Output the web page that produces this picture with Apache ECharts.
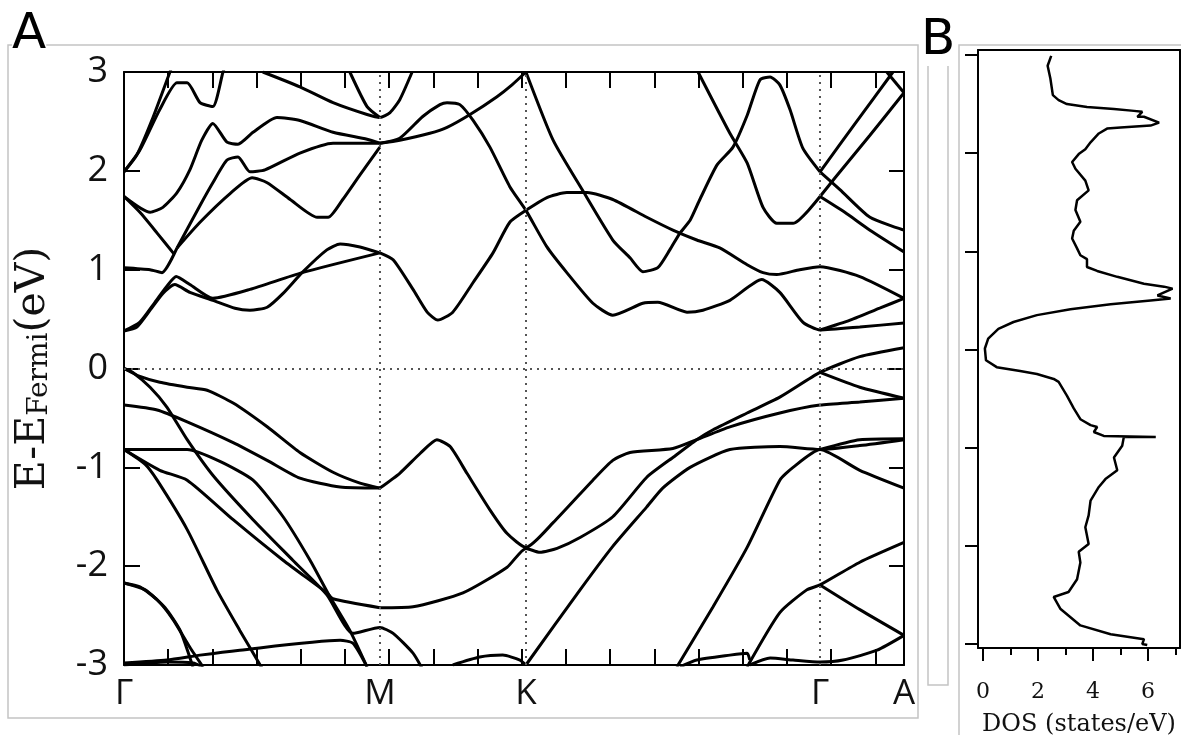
<!DOCTYPE html>
<html><head><meta charset="utf-8">
<script src="https://cdn.jsdelivr.net/npm/echarts@6/dist/echarts.min.js"></script>
<style>html,body{margin:0;padding:0;background:#fff}#c{width:1181px;height:735px}</style>
</head><body><div id="c"></div>
<script>
// ---- axes / labels ----
const kTicks = [1,2,3,4,5,6,7,8,9,10,11,12,13,14,15,16,17];
const symPoints = [0, 5.79, 9.095, 15.75, 17.65];
const symLabels = ['Γ','M','K','Γ','A'];
const eTicks = [-3,-2,-1,0,1,2,3];
const dosMajor = [0,2,4,6];
const dosMinor = [1,3,5,7];

// ---- bands (k, E-EFermi) ----
const c1 = [[0,1.99],[0.29,2.16],[0.63,2.51],[1.04,3.0],[1.08,3.05]];
const c2 = [[0,1.99],[0.36,2.21],[0.81,2.62],[1.2,2.89],[1.43,2.89],[1.72,2.69],[2.01,2.65],[2.24,3.0],[2.28,3.05]];
const c3 = [[0,1.74],[0.59,1.58],[0.88,1.63],[1.2,1.78],[1.49,2.01],[1.76,2.31],[2.01,2.48],[2.33,2.29],[2.58,2.27],[2.92,2.39],[3.46,2.54],[3.98,2.51],[4.73,2.39],[5.5,2.32],[5.79,2.28]];
const c4 = [[0,1.74],[0.36,1.58],[0.75,1.37],[1.13,1.16]];
const c5 = [[0,1.02],[0.59,1.0],[0.86,0.97],[1.2,1.22]];
const c6 = [[1.2,1.22],[1.72,1.65],[2.01,1.88],[2.33,2.11],[2.58,2.14],[2.85,1.99],[3.19,2.01],[3.98,2.18],[4.73,2.28],[5.79,2.28]];
const c7 = [[1.2,1.22],[1.72,1.48],[2.4,1.77],[2.9,1.93],[3.24,1.88],[3.76,1.71],[4.37,1.53],[4.62,1.53],[4.95,1.71],[5.34,1.96],[5.79,2.24]];
const h1 = [[0,0.38],[0.29,0.42],[0.59,0.59],[0.88,0.76],[1.15,0.85],[1.49,0.77],[2.01,0.69],[2.51,0.61],[2.85,0.59],[3.24,0.62],[3.6,0.76],[4.03,0.97],[4.59,1.2],[4.89,1.26],[5.34,1.23],[5.79,1.17]];
const h2 = [[0,0.38],[0.36,0.47],[0.7,0.67],[1.0,0.85],[1.18,0.93],[1.49,0.85],[2.01,0.71],[2.85,0.8],[4.03,0.97],[5.79,1.17]];
const m1 = [[3.14,3.0],[3.98,2.85],[4.73,2.69],[5.5,2.57],[5.79,2.54],[6.02,2.59],[6.24,2.72],[6.52,3.0]];
const m2 = [[5.11,3.0],[5.5,2.65],[5.79,2.54]];
const m3 = [[5.79,2.28],[6.24,2.31],[6.92,2.38],[7.31,2.44],[7.83,2.57],[8.44,2.75],[8.78,2.87],[9.095,3.0]];
const m4 = [[5.79,2.28],[6.24,2.33],[6.76,2.55],[7.15,2.67],[7.31,2.69],[7.6,2.67],[7.9,2.51],[8.28,2.24],[8.73,1.84],[9.095,1.6],[9.57,1.23],[10.02,0.97],[10.61,0.66],[11.06,0.54],[11.74,0.66],[12.08,0.67],[12.74,0.57],[13.1,0.59],[13.71,0.69],[14.43,0.9],[14.84,0.77],[15.36,0.47],[15.75,0.39],[16.65,0.42],[17.65,0.46]];
const m5 = [[5.79,1.17],[6.09,1.1],[6.54,0.8],[6.86,0.57],[7.1,0.49],[7.44,0.57],[7.9,0.87],[8.35,1.17],[8.73,1.48],[9.095,1.6],[9.57,1.73],[10.02,1.78],[10.48,1.78],[11.06,1.71],[11.83,1.53],[12.42,1.4],[12.96,1.3],[13.48,1.22],[14.1,1.05],[14.46,0.97],[14.77,0.95],[15.29,1.0],[15.75,1.03],[16.65,0.93],[17.65,0.71]];
const m6 = [[15.75,0.39],[16.43,0.49],[17.1,0.61],[17.65,0.71]];
const k1 = [[9.095,3.0],[9.71,2.31],[10.38,1.8],[11.06,1.3],[11.45,1.12],[11.74,0.98],[12.08,1.02],[12.35,1.2],[12.58,1.37],[12.81,1.5],[13.03,1.71],[13.42,2.06],[13.78,2.24],[14.1,2.56],[14.39,2.92],[14.62,2.95],[14.84,2.87],[15.07,2.62],[15.36,2.23],[15.75,1.99]];
const k2 = [[12.99,3.0],[13.71,2.38],[14.1,2.08],[14.46,1.63],[14.77,1.47],[15.14,1.47],[15.75,1.74]];
const a1 = [[15.75,1.99],[16.58,2.5],[17.4,3.0]];
const a2 = [[15.75,1.74],[16.09,1.93],[16.88,2.36],[17.65,2.79]];
const a3 = [[17.26,3.0],[17.65,2.79]];
const a4 = [[15.75,1.99],[16.2,1.81],[16.88,1.53],[17.65,1.4]];
const a5 = [[15.75,1.74],[16.31,1.58],[16.88,1.4],[17.65,1.18]];
const v1a = [[0,0],[0.36,-0.08],[0.81,-0.14],[1.43,-0.19],[1.88,-0.22],[2.47,-0.35],[3.24,-0.59],[3.98,-0.85],[4.73,-1.05],[5.34,-1.16],[5.79,-1.21]];
const v1b = [[0,0],[0.2,-0.04],[0.59,-0.19],[0.97,-0.39],[1.43,-0.72],[2.01,-1.08],[2.92,-1.53],[3.82,-1.94],[4.59,-2.29],[5.18,-2.68],[5.79,-2.62],[6.09,-2.68],[6.54,-2.88],[6.74,-3.03]];
const v2 = [[0,-0.37],[0.75,-0.42],[1.43,-0.54],[2.47,-0.75],[3.24,-0.93],[3.98,-1.11],[4.89,-1.2],[5.79,-1.21]];
const L1 = [[0,-0.82],[0.48,-0.97],[0.75,-1.13],[1.43,-1.63],[2.1,-2.24],[2.62,-2.65],[3.12,-3.03]];
const L2 = [[0,-0.82],[0.81,-1.03],[1.43,-1.13],[2.47,-1.53],[3.6,-1.94],[4.59,-2.27],[4.73,-2.33],[5.79,-2.42]];
const L4 = [[0,-0.82],[1.43,-0.82],[2.17,-0.94],[2.92,-1.13],[3.6,-1.5],[4.21,-1.94],[4.66,-2.31],[5.11,-2.65],[5.5,-3.02]];
const p1 = [[5.79,-1.21],[6.24,-1.06],[6.7,-0.86],[7.08,-0.72],[7.38,-0.79],[7.76,-1.06],[8.28,-1.43],[8.67,-1.67],[9.095,-1.81],[9.71,-1.56],[10.61,-1.13],[11.06,-0.93],[11.45,-0.85],[12.42,-0.81],[12.96,-0.72],[13.71,-0.59],[14.84,-0.45],[15.75,-0.37],[16.65,-0.34],[17.65,-0.3]];
const p2 = [[5.79,-2.42],[6.54,-2.41],[7.67,-2.27],[8.67,-2.01],[9.095,-1.82],[9.41,-1.86],[9.8,-1.82],[10.32,-1.71],[11.06,-1.5],[11.83,-1.1],[12.42,-0.9],[12.96,-0.72],[13.33,-0.62],[14.1,-0.45],[14.84,-0.29],[15.75,-0.04],[16.65,0.12],[17.65,0.21]];
const p12 = [[15.75,-0.04],[16.65,-0.19],[17.65,-0.3]];
const p4 = [[7.44,-3.0],[8.05,-2.92],[8.57,-2.9],[8.96,-2.95],[9.095,-3.0]];
const p5 = [[9.095,-3.0],[10.32,-2.24],[11.06,-1.8],[11.83,-1.4],[12.19,-1.21],[12.81,-1.0],[13.71,-0.82],[14.84,-0.79],[15.75,-0.82],[16.65,-0.78],[17.65,-0.72]];
const p5b = [[15.75,-0.82],[16.65,-0.72],[17.65,-0.71]];
const p6 = [[12.51,-3.02],[13.33,-2.41],[14.1,-1.81],[14.84,-1.13],[15.14,-1.0],[15.75,-0.82],[16.65,-1.03],[17.65,-1.21]];
const p7 = [[14.1,-3.02],[14.84,-2.47],[15.45,-2.24],[15.75,-2.19],[16.65,-1.96],[17.65,-1.76]];
const p8 = [[15.75,-2.19],[16.65,-2.44],[17.65,-2.7]];
const p9 = [[12.58,-3.02],[12.96,-2.95],[13.71,-2.9],[14.1,-2.88],[14.16,-2.95]];
const p10 = [[14.16,-3.0],[14.62,-2.93],[15.14,-2.95],[15.75,-2.97],[16.27,-2.95],[17.04,-2.85],[17.65,-2.7]];
const b1 = [[0,-2.17],[0.36,-2.21],[0.75,-2.34],[1.11,-2.54],[1.49,-2.82],[1.79,-3.02]];
const b2 = [[0,-2.17],[0.48,-2.24],[0.93,-2.42],[1.27,-2.65],[1.56,-3.02]];
const b3 = [[0,-2.98],[0.97,-2.95],[1.72,-2.9],[2.62,-2.85],[4.89,-2.75],[5.18,-2.78],[5.5,-3.02]];
const b4 = [[0,-3.0],[0.97,-2.97],[1.56,-2.98],[1.79,-3.02]];

const bands = [c1,c2,c3,c4,c5,c6,c7,h1,h2,m1,m2,m3,m4,m5,m6,k1,k2,a1,a2,a3,a4,a5,
  v1a,v1b,v2,L1,L2,L4,p1,p2,p12,p4,p5,p5b,p6,p7,p8,p9,p10,b1,b2,b3,b4];

// ---- DOS (states/eV, E-EFermi) ----
const dosCurve = [[2.48,2.99],[2.35,2.89],[2.45,2.76],[2.54,2.59],[2.75,2.54],[3.05,2.5],[3.78,2.47],[4.76,2.45],[5.49,2.43],[5.79,2.42],[5.61,2.37],[5.85,2.37],[6.4,2.31],[6.09,2.28],[5.0,2.26],[4.51,2.25],[4.21,2.2],[3.91,2.11],[3.72,2.04],[3.48,1.99],[3.24,1.91],[3.36,1.84],[3.72,1.72],[3.84,1.62],[3.42,1.52],[3.36,1.42],[3.54,1.3],[3.3,1.21],[3.24,1.13],[3.42,1.03],[3.54,0.96],[3.78,0.92],[3.78,0.84],[4.15,0.8],[4.88,0.74],[5.85,0.67],[6.58,0.64],[6.89,0.62],[6.34,0.55],[6.82,0.52],[6.09,0.5],[4.64,0.46],[3.18,0.41],[1.96,0.35],[1.11,0.28],[0.56,0.21],[0.19,0.11],[0.07,0.01],[0.11,-0.11],[0.5,-0.18],[1.35,-0.22],[1.96,-0.25],[2.57,-0.3],[2.75,-0.33],[3.05,-0.47],[3.3,-0.6],[3.54,-0.71],[3.91,-0.77],[4.15,-0.79],[4.03,-0.84],[4.39,-0.88],[6.28,-0.89],[5.12,-0.89],[5.06,-0.98],[4.76,-1.1],[4.88,-1.23],[4.45,-1.32],[4.21,-1.4],[3.91,-1.54],[3.84,-1.69],[3.72,-1.81],[3.84,-1.98],[3.48,-2.06],[3.54,-2.17],[3.42,-2.34],[3.11,-2.47],[2.57,-2.52],[2.81,-2.64],[3.54,-2.81],[4.64,-2.9],[5.85,-2.95],[5.79,-3.0],[5.97,-3.01]];

const chart = echarts.init(document.getElementById('c'), null, {renderer:'canvas'});
const K = {color:'#000', width:2};
const sans = 'Open Sans';
const serif = 'DejaVu Serif';
const kMax = symPoints[symPoints.length-1];
const AL = {onZero:false, lineStyle:K};

const series = bands.map((d,i) => ({
  type:'line', xAxisIndex:0, yAxisIndex:0, data:d, showSymbol:false, silent:true,
  smooth:0.2, lineStyle:{color:'#000', width:3}, z:3
}));
series[0].markLine = {
  silent:true, symbol:'none', label:{show:false},
  lineStyle:{color:'#555', width:2, type:[2,5]},
  data: symPoints.slice(1,4).map(v=>({xAxis:v})).concat([{yAxis:0}])
};
series.push({type:'line', xAxisIndex:2, yAxisIndex:2, data:dosCurve, showSymbol:false, silent:true,
  lineStyle:{color:'#000', width:2.5}});

chart.setOption({
  animation:false,
  backgroundColor:'#fff',
  grid:[
    {left:124, top:72, width:780, height:593, outerBoundsMode:'none', containLabel:false},
    {left:978, top:50, width:202, height:598, outerBoundsMode:'none', containLabel:false}
  ],
  xAxis:[
    {gridIndex:0, type:'value', position:'bottom', min:0, max:kMax,
     axisLine:AL, splitLine:{show:false},
     axisTick:{inside:true, length:16, lineStyle:K, customValues:kTicks},
     axisLabel:{customValues:symPoints, margin:12, fontFamily:sans, fontSize:35, color:'#111',
       formatter:(v)=>{const i=symPoints.findIndex(p=>Math.abs(p-v)<1e-6); return i>=0?symLabels[i]:'';}}},
    {gridIndex:0, type:'value', position:'top', min:0, max:kMax,
     axisLine:AL, splitLine:{show:false},
     axisTick:{inside:true, length:16, lineStyle:K, customValues:kTicks},
     axisLabel:{show:false}},
    {gridIndex:1, type:'value', position:'bottom', min:-0.18, max:7.16,
     axisLine:AL, splitLine:{show:false},
     axisTick:{inside:false, length:13, lineStyle:K, customValues:dosMajor},
     axisLabel:{customValues:dosMajor, margin:33, fontFamily:serif, fontSize:22, color:'#111'},
     name:'DOS (states/eV)', nameLocation:'middle', nameGap:65,
     nameTextStyle:{fontFamily:serif, fontSize:24, color:'#111'}},
    {gridIndex:1, type:'value', position:'bottom', min:-0.18, max:7.16,
     axisLine:{show:false, onZero:false}, splitLine:{show:false},
     axisTick:{inside:false, length:7, lineStyle:K, customValues:dosMinor},
     axisLabel:{show:false}},
    {gridIndex:1, type:'value', position:'top', min:-0.18, max:7.16,
     axisLine:AL, splitLine:{show:false}, axisTick:{show:false}, axisLabel:{show:false}}
  ],
  yAxis:[
    {gridIndex:0, type:'value', position:'left', min:-3, max:3, interval:1,
     axisLine:AL, splitLine:{show:false},
     axisTick:{inside:true, length:16, lineStyle:K},
     axisLabel:{margin:16, fontFamily:sans, fontSize:36, color:'#111'},
     name:'{n|E-E}{s|Fermi}{n|(eV)}', nameLocation:'middle', nameGap:70, nameRotate:90,
     nameTextStyle:{rich:{
       n:{fontFamily:serif, fontSize:41, color:'#111'},
       s:{fontFamily:serif, fontSize:28, color:'#111', verticalAlign:'bottom'}
     }}},
    {gridIndex:0, type:'value', position:'right', min:-3, max:3, interval:1,
     axisLine:AL, splitLine:{show:false},
     axisTick:{inside:true, length:15, lineStyle:K}, axisLabel:{show:false}},
    {gridIndex:1, type:'value', position:'left', min:-3.04, max:3.05,
     axisLine:AL, splitLine:{show:false},
     axisTick:{inside:false, length:13, lineStyle:K, customValues:eTicks}, axisLabel:{show:false}},
    {gridIndex:1, type:'value', position:'right', min:-3.04, max:3.05,
     axisLine:AL, splitLine:{show:false}, axisTick:{show:false}, axisLabel:{show:false}}
  ],
  graphic:[
    {type:'rect', shape:{x:8, y:45, width:910, height:673}, style:{fill:'none', stroke:'#c4c4c4', lineWidth:1.5}, z:-1},
    {type:'rect', shape:{x:928, y:45, width:20, height:640}, style:{fill:'none', stroke:'#c4c4c4', lineWidth:1.5}, z:-1},
    {type:'rect', shape:{x:959, y:45, width:240, height:720}, style:{fill:'none', stroke:'#c4c4c4', lineWidth:1.5}, z:-1},
    {type:'text', left:12, top:10, style:{text:'A', font:'50px "DejaVu Sans"', fill:'#000', backgroundColor:'#fff'}, z:10},
    {type:'text', left:921, top:16, style:{text:'B', font:'50px "DejaVu Sans"', fill:'#000', backgroundColor:'#fff'}, z:10}
  ],
  series: series
});
</script></body></html>
